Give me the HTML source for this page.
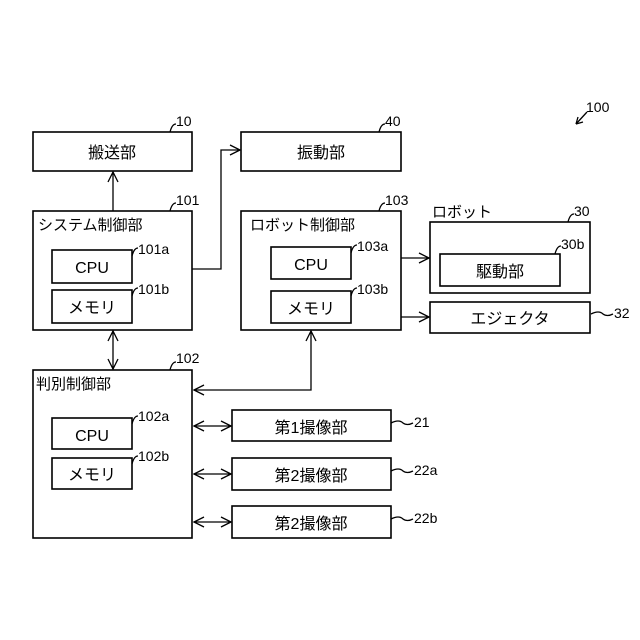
<!DOCTYPE html>
<html><head><meta charset="utf-8"><style>
html,body{margin:0;padding:0;background:#fff}
svg{display:block}
text{font-family:"Liberation Sans","Noto Sans CJK JP",sans-serif;fill:#000}
</style></head><body>
<svg width="640" height="640" viewBox="0 0 640 640" xmlns="http://www.w3.org/2000/svg">
<defs>
<marker id="a" markerWidth="12" markerHeight="12" refX="11" refY="6" orient="auto-start-reverse" markerUnits="userSpaceOnUse">
<path d="M1,1 L11,6 L1,11" fill="none" stroke="#000" stroke-width="1.3"/>
</marker>
</defs>
<g fill="none" stroke="#000" stroke-width="1.6">
<rect x="33" y="132" width="159" height="39"/>
<rect x="241" y="132" width="160" height="39"/>
<rect x="33" y="211" width="159" height="119"/>
<rect x="52" y="250" width="80" height="33"/>
<rect x="52" y="290" width="80" height="33"/>
<rect x="241" y="211" width="160" height="119"/>
<rect x="271" y="247" width="80" height="32"/>
<rect x="271" y="291" width="80" height="32"/>
<rect x="430" y="222" width="160" height="71"/>
<rect x="440" y="254" width="120" height="32"/>
<rect x="430" y="302" width="160" height="31"/>
<rect x="33" y="370" width="159" height="168"/>
<rect x="52" y="418" width="80" height="31"/>
<rect x="52" y="458" width="80" height="31"/>
<rect x="232" y="410" width="159" height="31"/>
<rect x="232" y="458" width="159" height="32"/>
<rect x="232" y="506" width="159" height="32"/>
</g>
<g fill="none" stroke="#000" stroke-width="1.3">
<line x1="113" y1="211" x2="113" y2="172" marker-end="url(#a)"/>
<polyline points="192,269 221,269 221,150 240,150" marker-end="url(#a)"/>
<line x1="401" y1="258" x2="429" y2="258" marker-end="url(#a)"/>
<line x1="401" y1="317" x2="429" y2="317" marker-end="url(#a)"/>
<line x1="113" y1="331" x2="113" y2="369" marker-start="url(#a)" marker-end="url(#a)"/>
<polyline points="311,331 311,390 194,390" marker-start="url(#a)" marker-end="url(#a)"/>
<line x1="194" y1="426" x2="231" y2="426" marker-start="url(#a)" marker-end="url(#a)"/>
<line x1="194" y1="474" x2="231" y2="474" marker-start="url(#a)" marker-end="url(#a)"/>
<line x1="194" y1="522" x2="231" y2="522" marker-start="url(#a)" marker-end="url(#a)"/>
<path d="M170,132 q2,-8 6,-8"/>
<path d="M379,132 q2,-8 6,-8"/>
<path d="M170,211 q2,-8 6,-8"/>
<path d="M379,211 q2,-8 6,-8"/>
<path d="M568,222 q2,-8 6,-8"/>
<path d="M555,254 q2,-8 6,-8"/>
<path d="M132,256 q2,-8 6,-8"/>
<path d="M132,296 q2,-8 6,-8"/>
<path d="M351,253 q2,-8 6,-8"/>
<path d="M351,296 q2,-8 6,-8"/>
<path d="M170,370 q2,-8 6,-8"/>
<path d="M132,424 q2,-8 6,-8"/>
<path d="M132,464 q2,-8 6,-8"/>
<path d="M391,423 q8,-4 12,0 q4,3 10,0"/>
<path d="M391,471 q8,-4 12,0 q4,3 10,0"/>
<path d="M391,519 q8,-4 12,0 q4,3 10,0"/>
<path d="M591,314 q8,-4 12,0 q4,3 10,0"/>
<line x1="587" y1="112" x2="576" y2="124"/>
<path d="M576,124 l2,-7 M576,124 l7,-2"/>
</g>
<g font-size="16" text-anchor="middle">
<text x="112" y="158">搬送部</text>
<text x="321" y="158">振動部</text>
<text x="92" y="273">CPU</text>
<text x="92" y="313">メモリ</text>
<text x="311" y="270">CPU</text>
<text x="311" y="314">メモリ</text>
<text x="500" y="277">駆動部</text>
<text x="510" y="324">エジェクタ</text>
<text x="92" y="441">CPU</text>
<text x="92" y="480">メモリ</text>
<text x="311" y="433">第1撮像部</text>
<text x="311" y="481">第2撮像部</text>
<text x="311" y="529">第2撮像部</text>
</g>
<g font-size="15">
<text x="38" y="230">システム制御部</text>
<text x="250" y="230">ロボット制御部</text>
<text x="432" y="217">ロボット</text>
<text x="36" y="389">判別制御部</text>
</g>
<g font-size="14">
<text x="176" y="126">10</text>
<text x="385" y="126">40</text>
<text x="176" y="205">101</text>
<text x="385" y="205">103</text>
<text x="574" y="216">30</text>
<text x="561" y="249">30b</text>
<text x="138" y="254">101a</text>
<text x="138" y="294">101b</text>
<text x="357" y="251">103a</text>
<text x="357" y="294">103b</text>
<text x="176" y="363">102</text>
<text x="138" y="421">102a</text>
<text x="138" y="461">102b</text>
<text x="414" y="427">21</text>
<text x="414" y="475">22a</text>
<text x="414" y="523">22b</text>
<text x="614" y="318">32</text>
<text x="586" y="112">100</text>
</g>
</svg>
</body></html>
